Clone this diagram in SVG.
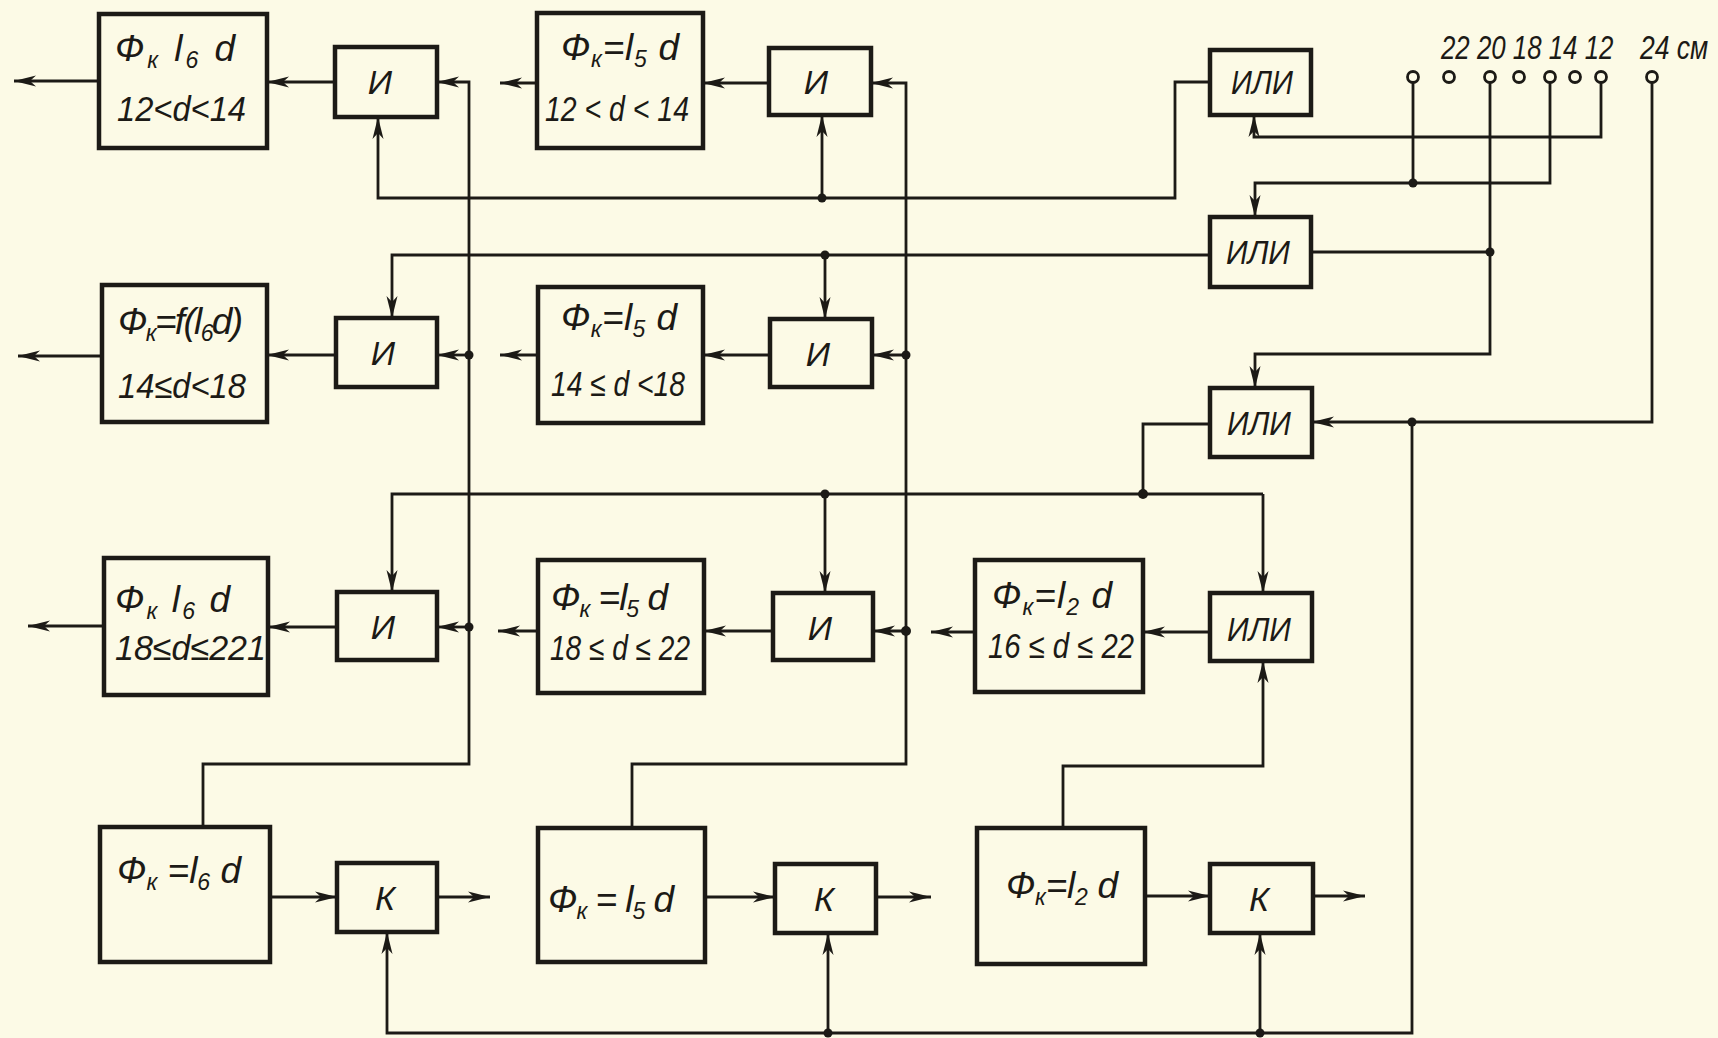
<svg xmlns="http://www.w3.org/2000/svg" width="1718" height="1038" viewBox="0 0 1718 1038">
<style>
.box{fill:none;stroke:#1c1a16;stroke-width:4.5}
.ln{fill:none;stroke:#1c1a16;stroke-width:2.8;stroke-linejoin:miter}
.ar{marker-end:url(#ah)}
.dot{fill:#1c1a16}
.term{fill:none;stroke:#1c1a16;stroke-width:2.8}
text{font-family:"Liberation Sans","DejaVu Sans",sans-serif;font-style:italic;fill:#1c1a16}
.f{font-size:35px}
.f1{font-size:37px}
.g{font-size:34px;text-anchor:middle}
.s{font-size:23px}
.n{font-size:34px}
</style>
<defs>
<marker id="ah" viewBox="-24 -6 25 12" refX="0" refY="0" markerWidth="25" markerHeight="12" markerUnits="userSpaceOnUse" orient="auto">
<path d="M0,0 L-22,-5.5 L-16,0 L-22,5.5 Z" fill="#1c1a16"/>
</marker>
</defs>
<rect x="0" y="0" width="1718" height="1038" fill="#fcfae6"/>

<g id="connectors">
<!-- row 1 -->
<path class="ln ar" d="M99,81 H14"/>
<path class="ln ar" d="M335,82 H267"/>
<path class="ln ar" d="M537,83 H500"/>
<path class="ln ar" d="M769,83 H703"/>
<!-- left trunk -->
<path class="ln ar" d="M203,827 V764 H469 V82 H437"/>
<path class="ln ar" d="M469,355 H437"/>
<path class="ln ar" d="M469,627 H437"/>
<!-- middle trunk -->
<path class="ln ar" d="M632,828 V764 H906 V83 H871"/>
<path class="ln ar" d="M906,355 H872"/>
<path class="ln ar" d="M906,631 H873"/>
<!-- ИЛИ1 output bus -->
<path class="ln ar" d="M1210,82 H1175 V198 H378 V117"/>
<path class="ln ar" d="M822,198 V115"/>
<!-- ИЛИ2 output bus -->
<path class="ln ar" d="M1210,255 H392 V318"/>
<path class="ln ar" d="M825,255 V319"/>
<!-- ИЛИ3 output bus -->
<path class="ln" d="M1210,424 H1143 V494"/>
<path class="ln ar" d="M1263,494 H392 V592"/>
<path class="ln ar" d="M1263,494 V593"/>
<path class="ln ar" d="M825,494 V593"/>
<!-- row 2 -->
<path class="ln ar" d="M102,356 H18"/>
<path class="ln ar" d="M336,355 H267"/>
<path class="ln ar" d="M538,355 H500"/>
<path class="ln ar" d="M770,355 H703"/>
<!-- row 3 -->
<path class="ln ar" d="M104,626 H28"/>
<path class="ln ar" d="M337,627 H268"/>
<path class="ln ar" d="M538,631 H498"/>
<path class="ln ar" d="M773,631 H704"/>
<path class="ln ar" d="M975,632 H931"/>
<path class="ln ar" d="M1210,632 H1143"/>
<!-- row 4 -->
<path class="ln ar" d="M270,897 H337"/>
<path class="ln ar" d="M437,897 H490"/>
<path class="ln ar" d="M705,897 H775"/>
<path class="ln ar" d="M876,897 H931"/>
<path class="ln ar" d="M1145,896 H1210"/>
<path class="ln ar" d="M1313,896 H1365"/>
<path class="ln ar" d="M1063,828 V766 H1263 V661"/>
<!-- bottom bus -->
<path class="ln ar" d="M1652,82 V422 H1312"/>
<path class="ln ar" d="M1412,422 V1033 H387 V932"/>
<path class="ln ar" d="M828,1033 V933"/>
<path class="ln ar" d="M1260,1033 V933"/>
<!-- terminals -->
<path class="ln ar" d="M1601,82 V137 H1254 V115"/>
<path class="ln" d="M1413,82 V183"/>
<path class="ln ar" d="M1550,82 V183 H1255 V217"/>
<path class="ln ar" d="M1490,82 V354 H1255 V388"/>
<path class="ln" d="M1490,252 H1311"/>
<!-- junction dots -->
<circle class="dot" cx="822" cy="198" r="4.5"/>
<circle class="dot" cx="825" cy="255" r="4.5"/>
<circle class="dot" cx="825" cy="494" r="4.5"/>
<circle class="dot" cx="1143" cy="494" r="5"/>
<circle class="dot" cx="469" cy="355" r="4.5"/>
<circle class="dot" cx="469" cy="627" r="4.5"/>
<circle class="dot" cx="906" cy="355" r="4.5"/>
<circle class="dot" cx="906" cy="631" r="5"/>
<circle class="dot" cx="1413" cy="183" r="4.5"/>
<circle class="dot" cx="1490" cy="252" r="4.5"/>
<circle class="dot" cx="1412" cy="422" r="4.5"/>
<circle class="dot" cx="828" cy="1033" r="4.5"/>
<circle class="dot" cx="1260" cy="1033" r="4.5"/>
</g>

<g id="terminals">
<circle class="term" cx="1413" cy="77" r="5.5"/>
<circle class="term" cx="1449" cy="77" r="5.5"/>
<circle class="term" cx="1490" cy="77" r="5.5"/>
<circle class="term" cx="1519" cy="77" r="5.5"/>
<circle class="term" cx="1550" cy="77" r="5.5"/>
<circle class="term" cx="1575" cy="77" r="5.5"/>
<circle class="term" cx="1601" cy="77" r="5.5"/>
<circle class="term" cx="1652" cy="77" r="5.5"/>
<text class="n" transform="translate(1441,59) scale(0.76,1)" x="0" y="0">22 20 18 14 12</text>
<text class="n" transform="translate(1640,59) scale(0.78,1)" x="0" y="0">24 см</text>
</g>

<g id="A1"><rect class="box" x="99" y="14" width="168" height="134"/>
<text class="f1" x="115" y="61" textLength="120" lengthAdjust="spacing">Ф<tspan class="s" dy="7">к</tspan><tspan dy="-7"> l</tspan><tspan class="s" dy="7">6</tspan><tspan dy="-7"> d</tspan></text>
<text class="f" x="117" y="121" textLength="129" lengthAdjust="spacingAndGlyphs">12&lt;d&lt;14</text></g>

<g id="I1"><rect class="box" x="335" y="47" width="102" height="70"/><text class="g" x="380" y="94">И</text></g>

<g id="A2"><rect class="box" x="537" y="13" width="166" height="135"/>
<text class="f1" x="561" y="60" textLength="118" lengthAdjust="spacing">Ф<tspan class="s" dy="7">к</tspan><tspan dy="-7">=l</tspan><tspan class="s" dy="7">5</tspan><tspan dy="-7"> d</tspan></text>
<text class="f" x="545" y="121" textLength="144" lengthAdjust="spacingAndGlyphs">12 &lt; d &lt; 14</text></g>

<g id="I2"><rect class="box" x="769" y="48" width="102" height="67"/><text class="g" x="816" y="94">И</text></g>

<g id="OR1"><rect class="box" x="1210" y="50" width="101" height="65"/><text class="g" x="1262" y="94" textLength="62" lengthAdjust="spacingAndGlyphs">ИЛИ</text></g>

<g id="OR2"><rect class="box" x="1210" y="217" width="101" height="70"/><text class="g" x="1258" y="264" textLength="64" lengthAdjust="spacingAndGlyphs">ИЛИ</text></g>

<g id="A3"><rect class="box" x="102" y="285" width="165" height="137"/>
<text class="f1" x="118" y="334" textLength="125" lengthAdjust="spacing">Ф<tspan class="s" dy="7">к</tspan><tspan dy="-7">=f(l</tspan><tspan class="s" dy="7">6</tspan><tspan dy="-7">d)</tspan></text>
<text class="f" x="118" y="398" textLength="128" lengthAdjust="spacingAndGlyphs">14≤d&lt;18</text></g>

<g id="I3"><rect class="box" x="336" y="318" width="101" height="69"/><text class="g" x="383" y="365">И</text></g>

<g id="A4"><rect class="box" x="538" y="287" width="165" height="136"/>
<text class="f1" x="561" y="330" textLength="116" lengthAdjust="spacing">Ф<tspan class="s" dy="7">к</tspan><tspan dy="-7">=l</tspan><tspan class="s" dy="7">5</tspan><tspan dy="-7"> d</tspan></text>
<text class="f" x="551" y="396" textLength="134" lengthAdjust="spacingAndGlyphs">14 ≤ d &lt;18</text></g>

<g id="I4"><rect class="box" x="770" y="319" width="102" height="68"/><text class="g" x="818" y="366">И</text></g>

<g id="OR3"><rect class="box" x="1210" y="388" width="102" height="69"/><text class="g" x="1259" y="435" textLength="64" lengthAdjust="spacingAndGlyphs">ИЛИ</text></g>

<g id="A5"><rect class="box" x="104" y="558" width="164" height="137"/>
<text class="f1" x="115" y="612" textLength="115" lengthAdjust="spacing">Ф<tspan class="s" dy="7">к</tspan><tspan dy="-7"> l</tspan><tspan class="s" dy="7">6</tspan><tspan dy="-7"> d</tspan></text>
<text class="f" x="115" y="660" textLength="151" lengthAdjust="spacingAndGlyphs">18≤d≤221</text></g>

<g id="I5"><rect class="box" x="337" y="592" width="100" height="68"/><text class="g" x="383" y="639">И</text></g>

<g id="A6"><rect class="box" x="538" y="560" width="166" height="133"/>
<text class="f1" x="551" y="610" textLength="117" lengthAdjust="spacing">Ф<tspan class="s" dy="7">к</tspan><tspan dy="-7"> =l</tspan><tspan class="s" dy="7">5</tspan><tspan dy="-7"> d</tspan></text>
<text class="f" x="550" y="660" textLength="140" lengthAdjust="spacingAndGlyphs">18 ≤ d ≤ 22</text></g>

<g id="I6"><rect class="box" x="773" y="593" width="100" height="67"/><text class="g" x="820" y="640">И</text></g>

<g id="A7"><rect class="box" x="975" y="560" width="168" height="132"/>
<text class="f1" x="992" y="608" textLength="120" lengthAdjust="spacing">Ф<tspan class="s" dy="7">к</tspan><tspan dy="-7">=l</tspan><tspan class="s" dy="7">2</tspan><tspan dy="-7"> d</tspan></text>
<text class="f" x="988" y="658" textLength="146" lengthAdjust="spacingAndGlyphs">16 ≤ d ≤ 22</text></g>

<g id="OR4"><rect class="box" x="1210" y="593" width="102" height="68"/><text class="g" x="1259" y="641" textLength="64" lengthAdjust="spacingAndGlyphs">ИЛИ</text></g>

<g id="B1"><rect class="box" x="100" y="827" width="170" height="135"/>
<text class="f1" x="117" y="883" textLength="124" lengthAdjust="spacing">Ф<tspan class="s" dy="7">к</tspan><tspan dy="-7"> =l</tspan><tspan class="s" dy="7">6</tspan><tspan dy="-7"> d</tspan></text></g>

<g id="K1"><rect class="box" x="337" y="863" width="100" height="69"/><text class="g" x="385" y="910">К</text></g>

<g id="B2"><rect class="box" x="538" y="828" width="167" height="134"/>
<text class="f1" x="548" y="912" textLength="126" lengthAdjust="spacing">Ф<tspan class="s" dy="7">к</tspan><tspan dy="-7"> = l</tspan><tspan class="s" dy="7">5</tspan><tspan dy="-7"> d</tspan></text></g>

<g id="K2"><rect class="box" x="775" y="864" width="101" height="69"/><text class="g" x="824" y="911">К</text></g>

<g id="B3"><rect class="box" x="977" y="828" width="168" height="136"/>
<text class="f1" x="1006" y="898" textLength="112" lengthAdjust="spacing">Ф<tspan class="s" dy="7">к</tspan><tspan dy="-7">=l</tspan><tspan class="s" dy="7">2</tspan><tspan dy="-7"> d</tspan></text></g>

<g id="K3"><rect class="box" x="1210" y="864" width="103" height="69"/><text class="g" x="1259" y="911">К</text></g>
</svg>
